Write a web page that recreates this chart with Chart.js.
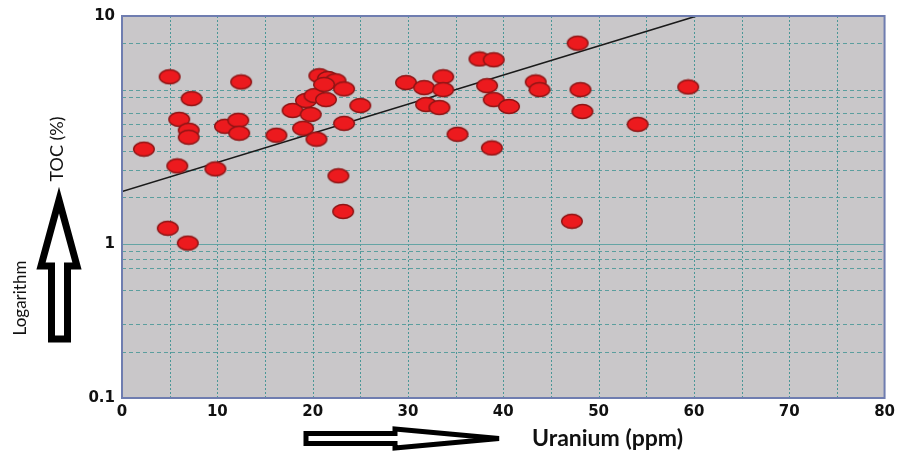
<!DOCTYPE html>
<html>
<head>
<meta charset="utf-8">
<script src="https://cdn.jsdelivr.net/npm/chart.js@4.4.1/dist/chart.umd.min.js"></script>
<style>
  html, body { margin: 0; padding: 0; background: #fff; }
</style>
</head>
<body>
<canvas id="chart" width="900" height="453"></canvas>
<script>
// Uranium (ppm) vs TOC (%) samples
const uranium = [2.3, 5.0, 4.8, 6.9, 5.8, 6.0, 7.3, 7.0, 7.0, 9.8, 10.8, 12.2, 12.3, 12.5,
  16.2, 17.9, 19.0, 19.8, 20.4, 19.3, 20.2, 21.4, 20.7, 21.6, 22.4, 21.2, 23.3, 22.7, 23.2,
  23.3, 25.0, 29.8, 31.7, 31.9, 33.3, 33.7, 33.7, 35.2, 37.5, 39.0, 38.3, 39.0, 38.8, 40.6,
  43.4, 43.8, 47.8, 47.2, 48.1, 48.3, 54.1, 59.4];
const toc = [4.11, 12.1, 1.26, 1.01, 3.20, 6.41, 8.74, 5.45, 4.91, 3.06, 5.78, 6.32, 5.21, 11.2,
  5.06, 7.32, 5.61, 6.90, 4.77, 8.49, 9.14, 8.61, 12.3, 11.8, 11.4, 10.8, 10.1, 2.76, 1.62,
  6.04, 7.88, 11.1, 10.3, 8.00, 7.65, 12.1, 9.99, 5.13, 15.8, 15.6, 10.6, 8.61, 4.18, 7.77,
  11.2, 9.99, 20.0, 1.40, 9.99, 7.21, 5.95, 10.4];

// exponential trend line (straight on the log axis)
const trendU = [0, 60.3];
const trendToc = [2.18, 30];

// axes
const xMin = 0, xMax = 80, xStep = 10;
const xGrid = [5, 10, 15, 20, 25, 30, 35, 40, 45, 50, 55, 60, 65, 70, 75];
const yMin = 0.1, yMax = 30;
const yLabelValues = [0.1, 1, 30];
const yLabelText = ['0.1', '1', '10'];
const yGrid = [0.2, 0.3, 0.5, 0.7, 0.8, 0.9, 2, 3, 4, 5, 6, 7, 9, 10, 20];
const ySolid = [1];

// red ellipse marker
function makeDot() {
  const c = document.createElement('canvas');
  c.width = 24; c.height = 17;
  const g = c.getContext('2d');
  g.beginPath();
  g.ellipse(12, 8.5, 10.3, 7, 0, 0, Math.PI * 2);
  g.fillStyle = '#ec1a1e';
  g.fill();
  g.lineWidth = 1.4;
  g.strokeStyle = '#8e1515';
  g.stroke();
  return c;
}

const framePlugin = {
  id: 'frame',
  beforeDatasetsDraw(chart) {
    const { ctx, chartArea: a, scales: { x, y } } = chart;
    ctx.save();
    ctx.fillStyle = '#c9c7c9';
    ctx.fillRect(a.left, a.top, a.right - a.left, a.bottom - a.top);

    ctx.strokeStyle = 'rgba(60, 145, 145, 0.9)';
    ctx.lineWidth = 1;
    ctx.setLineDash([2, 2]);
    xGrid.forEach(v => {
      const px = Math.round(x.getPixelForValue(v)) + 0.5;
      ctx.beginPath(); ctx.moveTo(px, a.top); ctx.lineTo(px, a.bottom); ctx.stroke();
    });
    ctx.strokeStyle = 'rgba(72, 150, 150, 0.85)';
    ctx.setLineDash([4, 3]);
    yGrid.forEach(v => {
      const py = Math.round(y.getPixelForValue(v)) + 0.5;
      ctx.beginPath(); ctx.moveTo(a.left, py); ctx.lineTo(a.right, py); ctx.stroke();
    });
    ctx.setLineDash([]);
    ctx.strokeStyle = 'rgba(90, 160, 160, 0.9)';
    ySolid.forEach(v => {
      const py = Math.round(y.getPixelForValue(v)) + 0.5;
      ctx.beginPath(); ctx.moveTo(a.left, py); ctx.lineTo(a.right, py); ctx.stroke();
    });
    ctx.restore();
  },
  afterDatasetsDraw(chart) {
    const { ctx, chartArea: a } = chart;
    ctx.save();
    ctx.strokeStyle = '#6f7db0';
    ctx.lineWidth = 2;
    ctx.strokeRect(a.left, a.top, a.right - a.left, a.bottom - a.top);
    ctx.restore();
  },
  afterDraw(chart) {
    const ctx = chart.ctx;
    ctx.save();
    // up arrow
    ctx.lineJoin = 'miter';
    ctx.lineWidth = 7;
    ctx.strokeStyle = '#000';
    ctx.fillStyle = '#fff';
    ctx.beginPath();
    ctx.moveTo(59, 200);
    ctx.lineTo(77, 266);
    ctx.lineTo(67.5, 266);
    ctx.lineTo(67.5, 339);
    ctx.lineTo(51.5, 339);
    ctx.lineTo(51.5, 266);
    ctx.lineTo(41, 266);
    ctx.closePath();
    ctx.fill(); ctx.stroke();
    // right arrow
    ctx.lineWidth = 5;
    ctx.beginPath();
    ctx.moveTo(306, 433.5);
    ctx.lineTo(395, 433.5);
    ctx.lineTo(395, 429);
    ctx.lineTo(499, 438.5);
    ctx.lineTo(395, 448);
    ctx.lineTo(395, 443.5);
    ctx.lineTo(306, 443.5);
    ctx.closePath();
    ctx.fill(); ctx.stroke();

    // titles
    ctx.fillStyle = '#111';
    ctx.textBaseline = 'middle';
    ctx.textAlign = 'left';
    ctx.font = 'bold 23px Lato';
    ctx.fillText('Uranium (ppm)', 532, 439);

    ctx.textAlign = 'center';
    ctx.font = '18px Lato';
    ctx.translate(57, 149);
    ctx.rotate(-Math.PI / 2);
    ctx.fillText('TOC (%)', 0, 0);
    ctx.rotate(Math.PI / 2);
    ctx.translate(-57, -149);

    ctx.font = '17px Lato';
    ctx.translate(21, 298);
    ctx.rotate(-Math.PI / 2);
    ctx.fillText('Logarithm', 0, 0);
    ctx.restore();
  }
};

const tickFont = { family: 'DejaVu Sans', weight: 'bold', size: 15 };

new Chart(document.getElementById('chart'), {
  type: 'scatter',
  data: {
    datasets: [
      {
        label: 'TOC',
        data: uranium.map((u, i) => ({ x: u, y: toc[i] })),
        pointStyle: makeDot(),
        pointRadius: 10,
        order: 1
      },
      {
        label: 'Trend',
        data: trendU.map((u, i) => ({ x: u, y: trendToc[i] })),
        showLine: true,
        borderColor: '#1a1a1a',
        borderWidth: 1.6,
        pointRadius: 0,
        order: 2
      }
    ]
  },
  options: {
    responsive: false,
    animation: false,
    layout: { padding: { top: 12, right: 9, left: 0, bottom: 0 } },
    plugins: { legend: { display: false }, tooltip: { enabled: false } },
    scales: {
      x: {
        type: 'linear', min: xMin, max: xMax,
        grid: { display: false, drawTicks: false },
        border: { display: false },
        afterFit: s => { s.height = 55; },
        ticks: { stepSize: xStep, padding: 5, color: '#111', font: tickFont }
      },
      y: {
        type: 'logarithmic', min: yMin, max: yMax,
        grid: { display: false, drawTicks: false },
        border: { display: false },
        afterBuildTicks: s => { s.ticks = yLabelValues.map(v => ({ value: v })); },
        afterFit: s => { s.width = 122; },
        ticks: {
          autoSkip: false, padding: 7, color: '#111', font: tickFont,
          callback: (v, i) => yLabelText[i]
        }
      }
    }
  },
  plugins: [framePlugin]
});
</script>
</body>
</html>
